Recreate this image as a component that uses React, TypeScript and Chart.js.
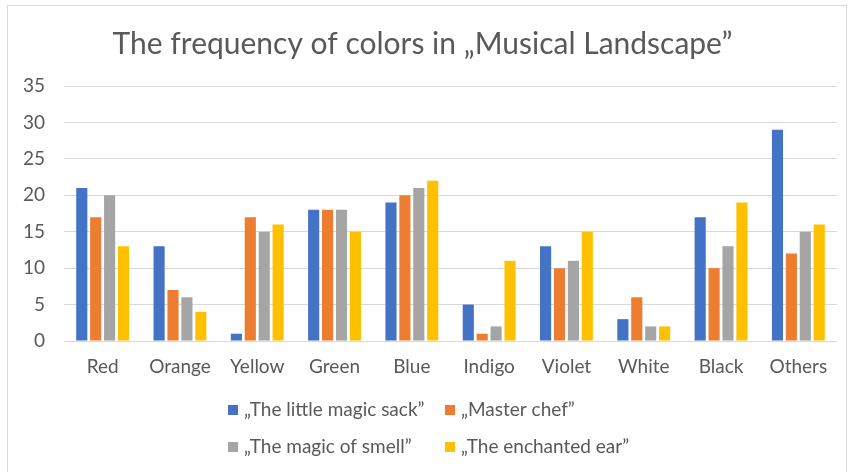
import React, { useEffect, useRef } from "react";
import { Chart, registerables } from "chart.js";

Chart.register(...registerables);

const categories = ["Red", "Orange", "Yellow", "Green", "Blue", "Indigo", "Violet", "White", "Black", "Others"];
const seriesNames = ["„The little magic sack”", "„Master chef”", "„The magic of smell”", "„The enchanted ear”"];
const littleMagicSack = [21, 13, 1, 18, 19, 5, 13, 3, 17, 29];
const masterChef = [17, 7, 17, 18, 20, 1, 10, 6, 10, 12];
const magicOfSmell = [20, 6, 15, 18, 21, 2, 11, 2, 13, 15];
const enchantedEar = [13, 4, 16, 15, 22, 11, 15, 2, 19, 16];
const colors = ["#4472C4", "#ED7D31", "#A5A5A5", "#FFC000"];
const titleText = "The frequency of colors in „Musical Landscape”";

const FONT = "Lato, Calibri, 'Noto Sans', sans-serif";
const TEXT = "#595959";

const gridLegend = {
  id: "gridLegend",
  afterDraw(chart: any) {
    const ctx = chart.ctx;
    const cols = [228, 445];
    const rows = [410, 447];
    ctx.save();
    ctx.font = `19px ${FONT}`;
    ctx.textBaseline = "middle";
    ctx.textAlign = "left";
    chart.data.datasets.forEach((ds: any, i: number) => {
      const x = cols[i % 2];
      const y = rows[Math.floor(i / 2)];
      ctx.fillStyle = ds.backgroundColor;
      ctx.fillRect(x, y - 5, 10, 10);
      ctx.fillStyle = TEXT;
      ctx.fillText(ds.label, x + 16, y);
    });
    ctx.restore();
  },
};

export default function App() {
  const ref = useRef<HTMLCanvasElement>(null);
  useEffect(() => {
    if (!ref.current) return;
    const data = [littleMagicSack, masterChef, magicOfSmell, enchantedEar];
    const chart = new Chart(ref.current, {
      type: "bar",
      data: {
        labels: categories,
        datasets: data.map((d, i) => ({
          label: seriesNames[i],
          data: d,
          backgroundColor: colors[i],
          categoryPercentage: 0.72,
          barPercentage: 0.8,
        })),
      },
      options: {
        animation: false,
        responsive: false,
        maintainAspectRatio: false,
        layout: { padding: { left: 8, right: 16, top: 0, bottom: 0 } },
        plugins: {
          legend: { display: false },
          tooltip: { enabled: false },
          title: {
            display: true,
            text: titleText,
            color: TEXT,
            font: { family: FONT, size: 30, weight: "normal" },
            padding: { top: 26, bottom: 24 },
          },
        },
        scales: {
          x: {
            grid: { display: false, drawTicks: false },
            border: { display: false },
            ticks: { color: TEXT, font: { family: FONT, size: 19 }, padding: 14 },
            afterFit: (s: any) => { s.height = 131; },
          },
          y: {
            min: 0,
            max: 35,
            ticks: { stepSize: 5, color: TEXT, font: { family: FONT, size: 19 }, padding: 19 },
            grid: { color: "#D9D9D9", drawTicks: false },
            border: { display: false },
            afterFit: (s: any) => { s.width = 56; },
          },
        },
      },
      plugins: [gridLegend],
    });
    return () => chart.destroy();
  }, []);
  return (
    <div style={{ position: "fixed", left: 0, top: 0, width: 853, height: 472, background: "#fff" }}>
      <canvas ref={ref} width={853} height={472} style={{ width: 853, height: 472, display: "block" }} />
      <div style={{ position: "absolute", left: 7, top: 5, width: 838, height: 470, border: "1px solid #D9D9D9", pointerEvents: "none" }} />
    </div>
  );
}
